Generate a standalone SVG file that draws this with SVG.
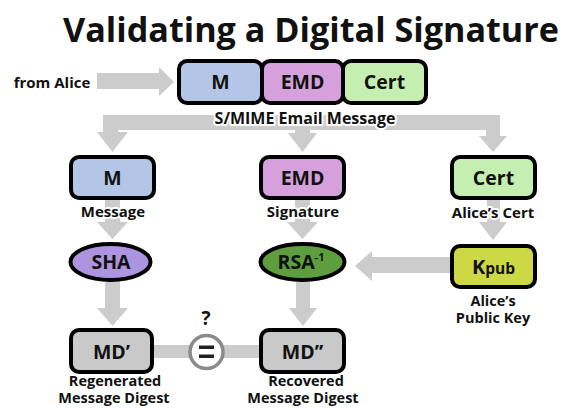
<svg xmlns="http://www.w3.org/2000/svg" width="563" height="408" viewBox="0 0 563 408">
  <style>
    text { font-family: "Open Sans", "Liberation Sans", sans-serif; font-weight: 700; fill: #111; text-anchor: middle; }
    .box { stroke: #000; stroke-width: 4; }
    .lbl { font-size: 15px; }
    .sub { font-size: 14.5px; }
    .big { font-size: 19.5px; }
    .halo { paint-order: stroke; stroke: #fff; stroke-width: 4; stroke-linejoin: round; }
    .arrow { fill: #cccccc; }
  </style>
  <rect width="563" height="408" fill="#fff"/>

  <text x="311" y="42" font-size="34" textLength="496" lengthAdjust="spacingAndGlyphs">Validating a Digital Signature</text>

  <!-- flow arrows -->
  <g id="connectors" class="arrow">
    <!-- incoming from Alice -->
    <polygon points="97,73 159,73 159,67 174,82 159,96 159,89 97,89"/>
    <!-- split bar of the S/MIME message -->
    <rect x="103" y="115" width="397" height="15"/>
    <polygon points="103,130 118,130 118,132 128,132 112.5,152 97,132 103,132"/>
    <polygon points="295,125 310,125 310,133 317,133 302.5,152 288,133 295,133"/>
    <polygon points="486,130 500,130 500,136 507,136 493,152 479,136 486,136"/>
    <!-- row 2 to row 3 -->
    <polygon points="105,198 120,198 120,222 128,222 112.5,239 97,222 105,222"/>
    <polygon points="295,198 310,198 310,222 318,222 302.5,239 287,222 295,222"/>
    <polygon points="487,198 500,198 500,222 507,222 493,240 479,222 487,222"/>
    <!-- Kpub to RSA -->
    <polygon points="450,257 372,257 372,251 355,266 372,281 372,273 450,273"/>
    <!-- row 3 to digests -->
    <polygon points="105,280 120,280 120,308 128,308 112.5,326 97,308 105,308"/>
    <polygon points="296,280 310,280 310,308 317,308 303,326 289,308 296,308"/>
    <!-- comparison bar -->
    <rect x="151" y="345" width="110" height="13"/>
  </g>

  <text x="52" y="88" font-size="15">from Alice</text>

  <!-- S/MIME email message -->
  <g id="msg-m">
    <rect class="box" x="179" y="61" width="83" height="42" rx="8" fill="#b4c6e7"/>
    <text x="220.5" y="89" class="big">M</text>
  </g>
  <g id="msg-emd">
    <rect class="box" x="262" y="61" width="81" height="42" rx="8" fill="#d5a0dc"/>
    <text x="302.5" y="89" class="big">EMD</text>
  </g>
  <g id="msg-cert">
    <rect class="box" x="343" y="61" width="83" height="42" rx="8" fill="#c5efb0"/>
    <text x="384.5" y="89" class="big">Cert</text>
  </g>
  <text x="305" y="124" class="halo" font-size="16">S/MIME Email Message</text>

  <!-- row 2 -->
  <g id="m">
    <rect class="box" x="71" y="157" width="83" height="41" rx="8" fill="#b4c6e7"/>
    <text x="112.5" y="185" class="big">M</text>
    <text x="113" y="217" class="lbl halo">Message</text>
  </g>
  <g id="emd">
    <rect class="box" x="261" y="157" width="83" height="41" rx="8" fill="#d5a0dc"/>
    <text x="302.5" y="185" class="big">EMD</text>
    <text x="303" y="217" class="lbl halo">Signature</text>
  </g>
  <g id="cert">
    <rect class="box" x="452" y="157" width="83" height="41" rx="8" fill="#c5efb0"/>
    <text x="493.5" y="185" class="big">Cert</text>
    <text x="493" y="218" class="lbl halo">Alice’s Cert</text>
  </g>

  <!-- row 3 -->
  <g id="sha">
    <ellipse class="box" cx="110.5" cy="262" rx="40" ry="18" fill="#ad94de"/>
    <text x="111" y="269" class="big">SHA</text>
  </g>
  <g id="rsa">
    <ellipse class="box" cx="302.5" cy="262" rx="42" ry="18" fill="#5e9e3f"/>
    <text x="301" y="269" class="big">RSA<tspan font-size="11" dy="-8">-1</tspan></text>
  </g>
  <g id="kpub">
    <rect class="box" x="452" y="246" width="83" height="41" rx="8" fill="#cdd845"/>
    <text x="493.5" y="274" font-size="20">K<tspan font-size="15.5">pub</tspan></text>
    <text class="sub"><tspan x="493" y="306">Alice’s</tspan><tspan x="493" y="323">Public Key</tspan></text>
  </g>

  <!-- row 4 -->
  <g id="md1">
    <rect class="box" x="71" y="330" width="81" height="42" rx="8" fill="#c9c9c9"/>
    <text x="111.5" y="359" class="big">MD’</text>
    <text class="sub"><tspan x="115" y="386">Regenerated</tspan><tspan x="114" y="403">Message Digest</tspan></text>
  </g>
  <g id="equals">
    <circle cx="206.5" cy="352" r="16.5" fill="#fff" stroke="#8a8a8a" stroke-width="3.5"/>
    <rect x="199" y="345.5" width="15" height="3.5" fill="#222"/>
    <rect x="199" y="354.5" width="15" height="3.5" fill="#222"/>
    <text x="206" y="325" font-size="19">?</text>
  </g>
  <g id="md2">
    <rect class="box" x="261" y="330" width="83" height="42" rx="8" fill="#c9c9c9"/>
    <text x="302.5" y="359" class="big">MD’’</text>
    <text class="sub"><tspan x="306" y="386">Recovered</tspan><tspan x="303" y="403">Message Digest</tspan></text>
  </g>
</svg>
